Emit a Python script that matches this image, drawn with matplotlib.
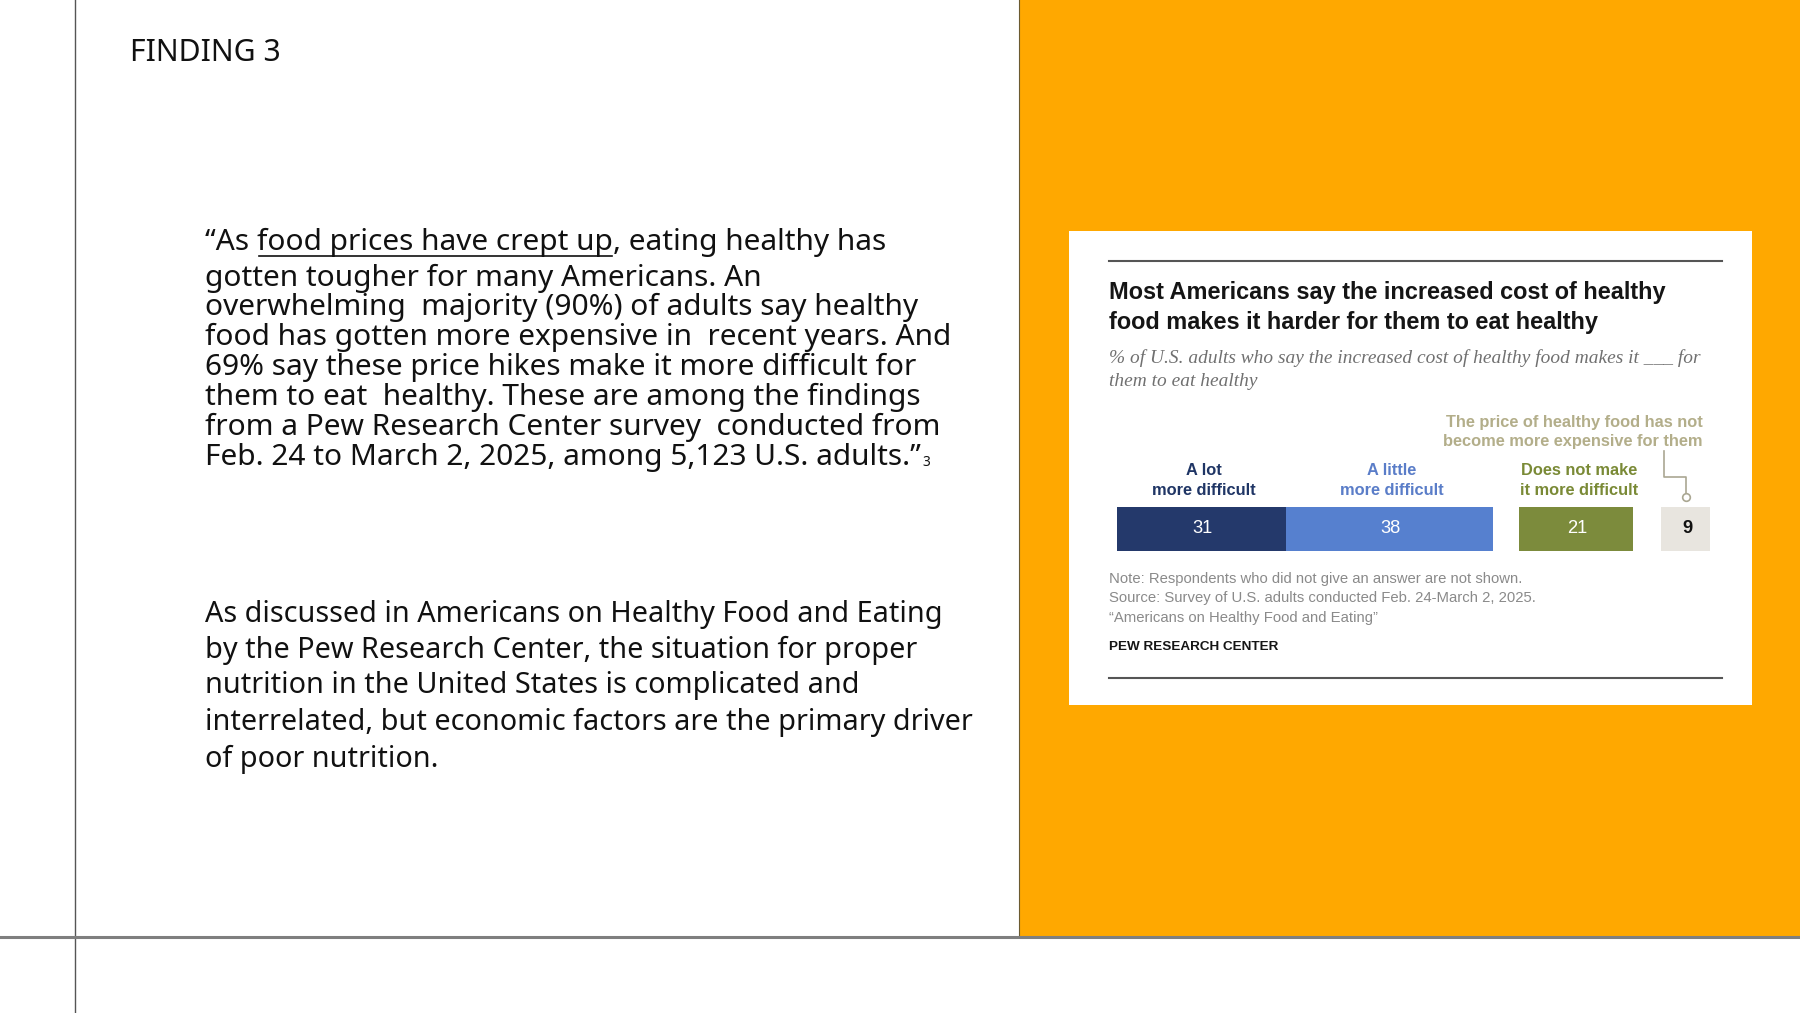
import matplotlib
matplotlib.use("Agg")
import matplotlib.pyplot as plt
from matplotlib.patches import Rectangle
from matplotlib.transforms import blended_transform_factory

# ---------------- data ----------------
categories = ["A lot\nmore difficult", "A little\nmore difficult",
              "Does not make\nit more difficult",
              "The price of healthy food has not\nbecome more expensive for them"]
values = [31, 38, 21, 9]
bar_colors = ["#24396b", "#5680cf", "#7c8b3c", "#e8e5df"]
label_colors = ["#1f3565", "#5a7dc8", "#7a8a36", "#b3ae8a"]
value_colors = ["white", "white", "white", "#111111"]

finding = "FINDING 3"
para1_lines = [
    ("\u201cAs ", "food prices have crept up", ", eating healthy has"),
    "gotten tougher for many Americans. An",
    "overwhelming  majority (90%) of adults say healthy",
    "food has gotten more expensive in  recent years. And",
    "69% say these price hikes make it more difficult for",
    "them to eat  healthy. These are among the findings",
    "from a Pew Research Center survey  conducted from",
    "Feb. 24 to March 2, 2025, among 5,123 U.S. adults.\u201d",
]
para2_lines = [
    "As discussed in Americans on Healthy Food and Eating",
    "by the Pew Research Center, the situation for proper",
    "nutrition in the United States is complicated and",
    "interrelated, but economic factors are the primary driver",
    "of poor nutrition.",
]
chart_title = ["Most Americans say the increased cost of healthy",
               "food makes it harder for them to eat healthy"]
chart_subtitle = ["% of U.S. adults who say the increased cost of healthy food makes it ___ for",
                  "them to eat healthy"]
chart_notes = ["Note: Respondents who did not give an answer are not shown.",
               "Source: Survey of U.S. adults conducted Feb. 24-March 2, 2025.",
               "\u201cAmericans on Healthy Food and Eating\u201d"]
chart_source = "PEW RESEARCH CENTER"

# ---------------- figure ----------------
W, H = 1568.0, 882.0
fig = plt.figure(figsize=(18, 10.13), dpi=100)
bg = fig.add_axes([0, 0, 1, 1])
bg.set_xlim(0, W)
bg.set_ylim(H, 0)
bg.axis("off")

def pt(px):
    return px * 0.8267

SANS = ["Noto Sans", "DejaVu Sans"]
CARD = ["Liberation Sans", "DejaVu Sans"]
SERIF = ["Liberation Serif", "DejaVu Serif"]

# orange panel and slide lines
bg.add_patch(Rectangle((888, 0), W - 888, 816, facecolor="#ffa800", edgecolor="none", zorder=0))
bg.plot([888, 888], [0, 816], color="#6b5a30", lw=0.8, zorder=1)
bg.plot([65, 65], [0, H], color="#555555", lw=1.0, zorder=1)
bg.plot([0, W], [816, 816], color="#7f7f7f", lw=2.2, zorder=1)

# left text
bg.text(113, 46, finding, fontsize=pt(26.2), family=SANS, color="#111111", va="center", ha="left")

fig.canvas.draw()
renderer = fig.canvas.get_renderer()
inv = bg.transData.inverted()

p1_y = [211, 242, 268, 294, 320, 346, 372, 398]
p1_size = pt(26)
for y, line in zip(p1_y, para1_lines):
    if isinstance(line, tuple):
        x = 179
        for i, part in enumerate(line):
            t = bg.text(x, y, part, fontsize=p1_size, family=SANS, color="#111111",
                        va="center", ha="left")
            bb = t.get_window_extent(renderer)
            (x0, _), (x1, _) = inv.transform([[bb.x0, bb.y0], [bb.x1, bb.y1]])
            if i == 1:
                bg.plot([x0 + 1, x1 - 1], [y + 12, y + 12], color="#111111", lw=1.2)
            x = x1
    else:
        t = bg.text(179, y, line, fontsize=p1_size, family=SANS, color="#111111",
                    va="center", ha="left")
        if line.endswith("\u201d"):
            bb = t.get_window_extent(renderer)
            (x1, _) = inv.transform([[bb.x1, bb.y0]])[0]
            bg.text(x1 + 1, y + 5, "3", fontsize=pt(12), family=SANS, color="#111111",
                    va="center", ha="left")

p2_y = [535, 566, 597, 629, 661]
for y, line in zip(p2_y, para2_lines):
    bg.text(179, y, line, fontsize=pt(25.1), family=SANS, color="#111111",
            va="center", ha="left")

# ---------------- chart card ----------------
bg.add_patch(Rectangle((931, 201), 595, 413, facecolor="white", edgecolor="none", zorder=2))
bg.plot([966, 1500], [227, 227], color="#555555", lw=1.5, zorder=3)
bg.plot([966, 1500], [590, 590], color="#555555", lw=1.5, zorder=3)

for y, line in zip([255, 281], chart_title):
    bg.text(966, y, line, fontsize=pt(20.5), family=CARD, weight="bold", color="#151515",
            va="center", ha="left", zorder=4)
for y, line in zip([312, 332], chart_subtitle):
    bg.text(966, y, line, fontsize=pt(16.9), family=SERIF, style="italic", color="#707070",
            va="center", ha="left", zorder=4)
for y, line in zip([504, 521, 538], chart_notes):
    bg.text(966, y, line, fontsize=pt(12.95), family=CARD, color="#8a8a8a",
            va="center", ha="left", zorder=4)
bg.text(966, 563, chart_source, fontsize=pt(11.75), family=CARD, weight="bold", color="#151515",
        va="center", ha="left", zorder=4)

# bars
gaps = [0.0, 0.0, 4.8, 5.2]
lefts = []
pos = 0.0
for v, g in zip(values, gaps):
    pos += g
    lefts.append(pos)
    pos += v
total = pos

axb = fig.add_axes([973 / W, 1 - 480 / H, 517 / W, 39 / H], zorder=5)
axb.set_xlim(0, total)
axb.set_ylim(-0.5, 0.5)
axb.axis("off")
axb.barh([0] * len(values), values, left=lefts, height=1.0, color=bar_colors, edgecolor="none")
centers = [l + v / 2 for l, v in zip(lefts, values)]
for c, v, col, i in zip(centers, values, value_colors, range(len(values))):
    axb.text(c + 0.2, 0, str(v), ha="center", va="center", color=col,
             fontsize=pt(16), family=CARD, weight="bold" if i == 3 else "normal")

tr = blended_transform_factory(axb.transData, bg.transData)
for i in range(3):
    l1, l2 = categories[i].split("\n")
    bg.text(centers[i] + 0.5, 410, l1, transform=tr, ha="center", va="center",
            fontsize=pt(14.3), family=CARD, weight="bold", color=label_colors[i], zorder=6)
    bg.text(centers[i] + 0.5, 427, l2, transform=tr, ha="center", va="center",
            fontsize=pt(14.3), family=CARD, weight="bold", color=label_colors[i], zorder=6)

a1, a2 = categories[3].split("\n")
bg.text(1483, 368, a1, ha="right", va="center", fontsize=pt(14.3), family=CARD,
        weight="bold", color=label_colors[3], zorder=6)
bg.text(1483, 384, a2, ha="right", va="center", fontsize=pt(14.3), family=CARD,
        weight="bold", color=label_colors[3], zorder=6)
bx0 = lefts[3] + 0.4
bg.plot([bx0, bx0, centers[3], centers[3]], [393, 415, 415, 430], transform=tr,
        color="#aaa792", lw=1.2, zorder=6)
bg.plot([centers[3]], [433], transform=tr, marker="o", ms=5.5, mfc="white",
        mec="#aaa792", mew=1.2, zorder=7)

fig.savefig("out.png", dpi=100)
